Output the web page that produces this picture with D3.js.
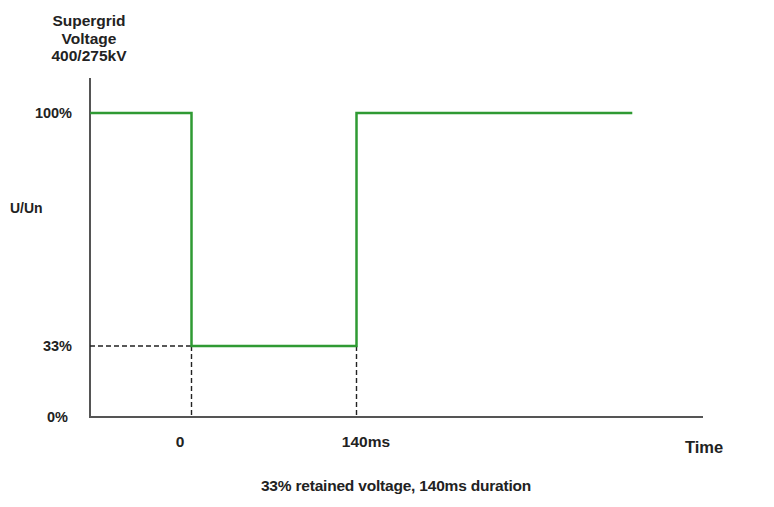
<!DOCTYPE html>
<html><head><meta charset="utf-8">
<script src="https://cdn.jsdelivr.net/npm/d3@7"></script>
<style>body{margin:0;background:#fff}text{font-family:"Liberation Sans",Arial,sans-serif;fill:#222}</style>
</head><body>
<script>
// Data
const times = [-86, 0, 140, 374];          // ms: start, fault, recovery, end
const levels = [100, 33, 100, 100];        // % U/Un
const yTicks = [0, 33, 100];
const yTickLabels = ["0%", "33%", "100%"];
const xMarks = [0, 140];
const xMarkLabels = ["0", "140ms"];
const titleLines = ["Supergrid", "Voltage", "400/275kV"];

const W = 774, H = 507;
const svg = d3.select("body").append("svg").attr("width", W).attr("height", H);

// schematic (not-to-scale) voltage axis, piecewise linear
const y = d3.scaleLinear().domain([0, 33, 100]).range([417, 346, 113]);
const x = d3.scaleLinear().domain([0, 140]).range([191.5, 356.5]);
const x0 = 90, xEnd = 703, yTop = 78;

// axes
svg.append("line").attr("x1", x0).attr("x2", x0).attr("y1", yTop).attr("y2", y(0))
  .attr("stroke", "#555").attr("stroke-width", 2);
svg.append("line").attr("x1", x0 - 1).attr("x2", xEnd).attr("y1", y(0)).attr("y2", y(0))
  .attr("stroke", "#555").attr("stroke-width", 2);

// dashed guides
const dash = "5,3";
svg.append("line").attr("x1", x0).attr("x2", x(0)).attr("y1", y(33)).attr("y2", y(33))
  .attr("stroke", "#222").attr("stroke-width", 1.4).attr("stroke-dasharray", dash);
xMarks.forEach(t => {
  svg.append("line").attr("x1", x(t)).attr("x2", x(t)).attr("y1", y(33)).attr("y2", y(0))
    .attr("stroke", "#222").attr("stroke-width", 1.4).attr("stroke-dasharray", dash);
});

// voltage profile
const pts = times.map((t, i) => [t, levels[i]]);
svg.append("path").datum(pts)
  .attr("d", d3.line().x(d => x(d[0])).y(d => y(d[1])).curve(d3.curveStepAfter))
  .attr("fill", "none").attr("stroke", "#2f9a33").attr("stroke-width", 2.5);

// y tick labels
const yLabX = [68, 72, 72];
yTicks.forEach((v, i) => {
  svg.append("text").attr("x", yLabX[i]).attr("y", y(v) + 5).attr("text-anchor", "end")
    .attr("font-size", 14.5).attr("font-weight", "bold").text(yTickLabels[i]);
});

// x labels
const xLabX = [180, 366];
xMarks.forEach((t, i) => {
  svg.append("text").attr("x", xLabX[i]).attr("y", 447).attr("text-anchor", "middle")
    .attr("font-size", 15.5).attr("font-weight", "bold").text(xMarkLabels[i]);
});

// title
titleLines.forEach((s, i) => {
  svg.append("text").attr("x", 89).attr("y", 26 + i * 17.5).attr("text-anchor", "middle")
    .attr("font-size", 15.5).attr("font-weight", "bold").text(s);
});

svg.append("text").attr("x", 10).attr("y", 213).attr("font-size", 14).attr("font-weight", "bold").text("U/Un");
svg.append("text").attr("x", 704).attr("y", 453).attr("text-anchor", "middle")
  .attr("font-size", 16.5).attr("font-weight", "bold").text("Time");
svg.append("text").attr("x", 396).attr("y", 491).attr("text-anchor", "middle")
  .attr("font-size", 15.5).attr("font-weight", "bold").attr("letter-spacing", -0.2)
  .text("33% retained voltage, 140ms duration");
</script>
</body></html>
